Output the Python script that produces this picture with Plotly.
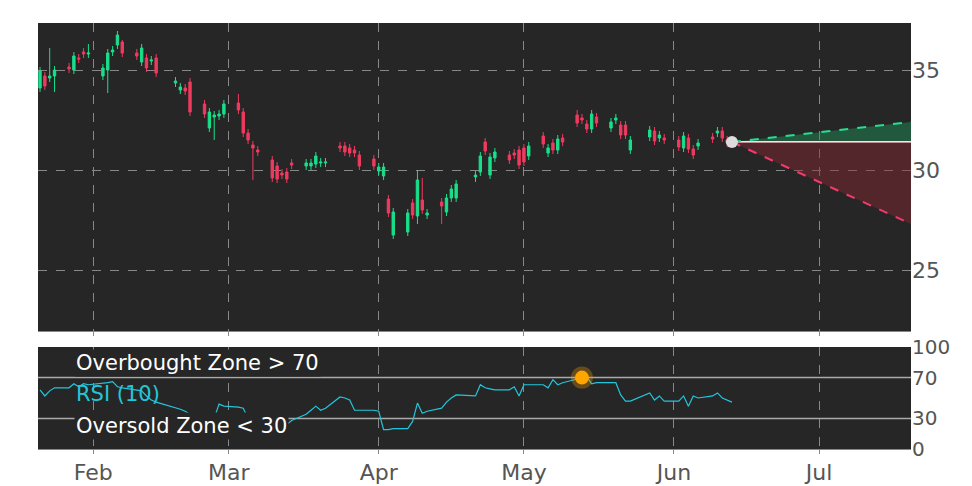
import plotly.graph_objects as go
import pandas as pd

dates = ["2025-01-21","2025-01-22","2025-01-23","2025-01-24",
"2025-01-27","2025-01-28","2025-01-29","2025-01-30","2025-01-31",
"2025-02-03","2025-02-04","2025-02-05","2025-02-06","2025-02-07",
"2025-02-10","2025-02-11","2025-02-12","2025-02-13","2025-02-14",
"2025-02-18","2025-02-19","2025-02-20","2025-02-21",
"2025-02-24","2025-02-25","2025-02-26","2025-02-27","2025-02-28",
"2025-03-03","2025-03-04","2025-03-05","2025-03-06","2025-03-07",
"2025-03-10","2025-03-11","2025-03-12","2025-03-13","2025-03-14",
"2025-03-17","2025-03-18","2025-03-19","2025-03-20","2025-03-21",
"2025-03-24","2025-03-25","2025-03-26","2025-03-27","2025-03-28",
"2025-03-31",
"2025-04-01","2025-04-02","2025-04-03","2025-04-04",
"2025-04-07","2025-04-08","2025-04-09","2025-04-10","2025-04-11",
"2025-04-14","2025-04-15","2025-04-16","2025-04-17",
"2025-04-21","2025-04-22","2025-04-23","2025-04-24","2025-04-25",
"2025-04-28","2025-04-29","2025-04-30","2025-05-01","2025-05-02",
"2025-05-05","2025-05-06","2025-05-07","2025-05-08","2025-05-09",
"2025-05-12","2025-05-13","2025-05-14","2025-05-15","2025-05-16",
"2025-05-19","2025-05-20","2025-05-21","2025-05-22","2025-05-23",
"2025-05-27","2025-05-28","2025-05-29","2025-05-30",
"2025-06-02","2025-06-03","2025-06-04","2025-06-05","2025-06-06",
"2025-06-09","2025-06-10","2025-06-11","2025-06-12","2025-06-13"]

opens = [34.1,34.7,34.6,34.7, 35.15,35.0,35.6,35.9,35.8,
34.7,35.0,35.9,36.25,36.4, 35.85,35.4,35.6,35.45,35.6,
34.35,34.0,34.1,34.4, 33.3,32.1,32.65,32.7,32.8,
33.35,32.9,31.85,31.25,31.0, 30.5,30.2,29.85,29.9,30.35,
30.2,30.2,30.3,30.35,30.35, 31.2,31.2,31.1,31.0,30.75, 30.55,
29.95,29.7,28.55,26.75, 26.9,28.35,27.7,28.5,27.75,
28.4,27.9,28.6,28.6, 29.65,29.9,31.4,29.75,30.6,
30.75,30.85,31.0,31.1,30.7, 31.7,30.85,31.35,31.0,31.6,
32.75,32.6,32.3,32.05,32.65, 32.1,32.5,32.25,32.25,31.0,
31.65,31.95,31.6,31.6, 31.5,31.1,31.6,31.05,31.2,
31.65,31.85,31.95,31.5,31.4]
closes = [34.95,34.2,34.7,35.0, 35.05,35.7,35.55,35.8,35.85,
35.1,35.85,36.0,36.75,35.85, 35.7,36.1,35.1,35.5,34.85,
34.45,34.15,33.95,32.9, 32.8,32.9,32.75,32.8,33.3,
33.0,31.85,31.5,31.1,30.9, 29.6,29.55,29.75,29.55,30.25,
30.35,30.35,30.7,30.4,30.4, 31.1,30.9,30.85,30.85,30.2, 30.2,
30.15,30.15,27.85,27.9, 27.85,27.75,29.5,28.0,27.85,
28.2,28.6,29.05,29.3, 29.75,30.7,30.95,30.65,30.9,
30.5,30.75,30.25,30.4,31.2, 31.3,31.1,31.0,31.55,31.4,
32.35,32.5,32.05,32.8,32.35, 32.4,32.6,31.75,31.75,31.5,
32.0,31.45,31.75,31.5, 31.15,31.7,31.05,30.75,31.35,
31.55,31.95,31.6,31.35,31.35]
high_overrides = {"2025-01-23":36.1,"2025-01-31":36.3,"2025-02-07":36.5,"2025-02-14":35.8,
                  "2025-03-03":33.8,"2025-04-09":30.0,"2025-04-10":29.6,"2025-05-12":33.0}
low_overrides = {"2025-01-24":33.9,"2025-02-04":33.85,"2025-02-26":31.5,"2025-03-06":29.5,
                 "2025-04-09":27.3,"2025-04-14":27.3,"2025-04-21":29.4}
rsi = [58,52,57,60, 60,64,61,64,63, 64,65,66,61,60, 58,57,52,48,46, 41,39,37,34,
32,31,30,44,42, 41,40,30,27,24, 20,18,22,24,28, 34,38,42,38,40, 51,50,48,38,38, 38,
37,19,19,20, 20,27,45,35,37, 40,46,50,53, 52,63,60,59,58, 58,61,52,63,63,
63,60,68,63,65, 68.6,70,71,64,65, 65,65,53,47,47, 55,48,52,47, 47,52,42,52,50,
52,55,50,48,46]

fc_dates = ["2025-06-13","2025-07-20"]
fc_base = [31.4,31.4]
fc_upper = [31.4,32.4]
fc_lower = [31.4,27.3]
rsi_peak_date, rsi_peak_val = "2025-05-13", 70
month_ticks = ["2025-02-01","2025-03-01","2025-04-01","2025-05-01","2025-06-01","2025-07-01"]
month_labels = ["Feb","Mar","Apr","May","Jun","Jul"]

highs = [high_overrides.get(d, max(o,c)+0.2) for d,o,c in zip(dates,opens,closes)]
lows = [low_overrides.get(d, min(o,c)-0.2) for d,o,c in zip(dates,opens,closes)]

GREEN="#18e08a"; RED="#f03a5f"; BG="#262626"
fig = go.Figure()
fig.add_trace(go.Candlestick(x=dates, open=opens, high=highs, low=lows, close=closes,
    increasing=dict(line=dict(color=GREEN,width=1), fillcolor=GREEN),
    decreasing=dict(line=dict(color=RED,width=1), fillcolor=RED),
    whiskerwidth=0, xaxis="x", yaxis="y", showlegend=False))
fig.add_trace(go.Scatter(x=fc_dates, y=fc_base, mode="lines", line=dict(color="#e8e8e8",width=2), showlegend=False))
fig.add_trace(go.Scatter(x=fc_dates, y=fc_upper, mode="lines", line=dict(color="#22e08f",width=2,dash="dash"),
    fill="tonexty", fillcolor="rgba(30,150,90,0.45)", showlegend=False))
fig.add_trace(go.Scatter(x=fc_dates, y=fc_base, mode="lines", line=dict(color="rgba(0,0,0,0)",width=0), showlegend=False))
fig.add_trace(go.Scatter(x=fc_dates, y=fc_lower, mode="lines", line=dict(color="#f03a6a",width=2,dash="dash"),
    fill="tonexty", fillcolor="rgba(140,40,50,0.45)", showlegend=False))
fig.add_trace(go.Scatter(x=[fc_dates[0]], y=[fc_base[0]], mode="markers",
    marker=dict(color="#dddddd",size=12), showlegend=False))

fig.add_trace(go.Scatter(x=dates, y=rsi, mode="lines", line=dict(color="#22c6dc",width=1.2),
    xaxis="x2", yaxis="y2", showlegend=False))
fig.add_trace(go.Scatter(x=[rsi_peak_date], y=[rsi_peak_val], mode="markers",
    marker=dict(color="orange",size=14,line=dict(color="rgba(255,165,0,0.3)",width=8)),
    xaxis="x2", yaxis="y2", showlegend=False))

xr = ["2025-01-20 14:00","2025-07-20"]
common_x = dict(range=xr, showgrid=True, gridcolor="#888", griddash="dash", gridwidth=1,
    tickvals=month_ticks, ticktext=month_labels, domain=[30/972, 903/972], zeroline=False,
    ticks="outside", ticklen=4, tickcolor="#888", linecolor="#888")
fig.update_layout(
    width=972, height=486, margin=dict(l=0,r=0,t=0,b=0,autoexpand=False),
    paper_bgcolor="white", plot_bgcolor=BG,
    font=dict(family="DejaVu Sans", size=22, color="#555"),
    xaxis=dict(**common_x, anchor="y", showticklabels=False, rangeslider=dict(visible=False)),
    yaxis=dict(domain=[1-323/486, 1-15/486], range=[21.95,37.35], side="right",
               tickvals=[25,30,35], showgrid=True, gridcolor="#888", griddash="dash", zeroline=False),
    xaxis2=dict(**common_x, anchor="y2", matches="x"),
    yaxis2=dict(domain=[1-441/486, 1-339/486], range=[0,100], side="right",
                tickvals=[0,30,70,100], showgrid=False, zeroline=False, tickfont=dict(size=20)),
    shapes=[dict(type="line", xref="x2 domain", yref="y2", x0=0, x1=1, y0=v, y1=v,
                 line=dict(color="#aaa", width=1.5), layer="below") for v in (30,70)],
    annotations=[
        dict(text="Overbought Zone > 70", xref="x2", yref="y2", x="2025-01-28", y=84, xanchor="left",
             showarrow=False, font=dict(color="white",size=21), bgcolor=BG),
        dict(text="RSI (10)", xref="x2", yref="y2", x="2025-01-28", y=54, xanchor="left",
             showarrow=False, font=dict(color="#22c6dc",size=21)),
        dict(text="Oversold Zone < 30", xref="x2", yref="y2", x="2025-01-28", y=23, xanchor="left",
             showarrow=False, font=dict(color="white",size=21), bgcolor=BG),
    ],
)
fig.write_html("out.html")
